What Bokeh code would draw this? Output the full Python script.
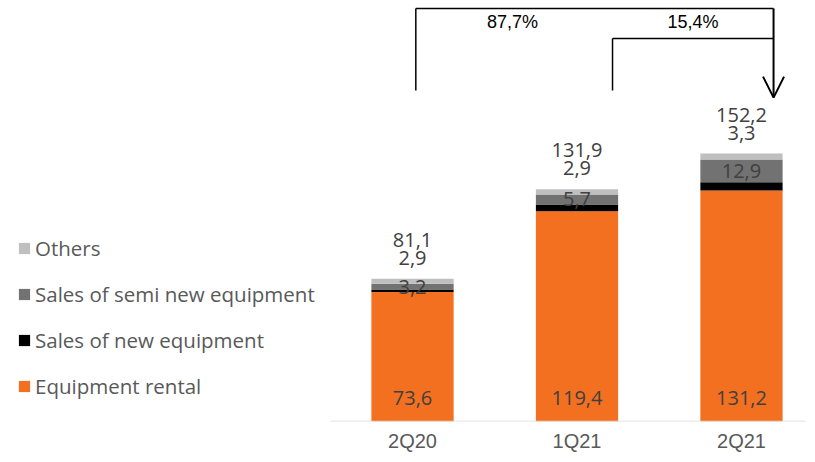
from bokeh.plotting import figure
from bokeh.models import (ColumnDataSource, Range1d, FixedTicker, Legend, LegendItem,
                          Arrow, OpenHead)
from bokeh.core.properties import value
from bokeh.embed import file_html
from bokeh.resources import INLINE

categories = ["2Q20", "1Q21", "2Q21"]
equipment_rental = [73.6, 119.4, 131.2]
sales_new = [1.4, 3.9, 4.8]
sales_semi_new = [3.2, 5.7, 12.9]
others = [2.9, 2.9, 3.3]
totals = [81.1, 131.9, 152.2]
growth_labels = ["87,7%", "15,4%"]

series_names = ["Equipment rental", "Sales of new equipment", "Sales of semi new equipment", "Others"]
colors = ["#F37021", "#000000", "#727272", "#BFBFBF"]

def fmt(v):
    return f"{v:.1f}".replace(".", ",")

xs = list(range(len(categories)))
b1 = equipment_rental
b2 = [a + b for a, b in zip(b1, sales_new)]
b3 = [a + b for a, b in zip(b2, sales_semi_new)]
b4 = [a + b for a, b in zip(b3, others)]

p = figure(width=815, height=462, output_backend="svg", toolbar_location=None,
           x_range=Range1d(-2.505, 2.45), y_range=Range1d(0, 239.2),
           min_border_left=0, min_border_right=0, min_border_top=0, min_border_bottom=41)
p.outline_line_color = None
p.grid.grid_line_color = None
p.yaxis.visible = False
p.xaxis.ticker = FixedTicker(ticks=xs)
p.xaxis.major_label_overrides = {i: c for i, c in enumerate(categories)}
p.xaxis.axis_line_color = None
p.xaxis.major_tick_line_color = None
p.xaxis.minor_tick_line_color = None
p.xaxis.major_tick_out = 0
p.xaxis.major_tick_in = 0
p.xaxis.major_label_text_font = "Liberation Sans"
p.xaxis.major_label_text_font_size = "20px"
p.xaxis.major_label_text_color = "#595959"
p.xaxis.major_label_standoff = 8

src = ColumnDataSource(dict(x=xs, b0=[0] * 3, b1=b1, b2=b2, b3=b3, b4=b4))
bottoms = ["b0", "b1", "b2", "b3"]
tops = ["b1", "b2", "b3", "b4"]
renderers = []
for name, col, bt, tp in zip(series_names, colors, bottoms, tops):
    r = p.vbar(x="x", bottom=bt, top=tp, width=0.5, fill_color=col, line_color=None, source=src)
    renderers.append((name, r))

# baseline
p.segment(x0=[-0.5], y0=[0], x1=[2.39], y1=[0], line_color="#D9D9D9", line_width=1.5)

lab_font = value("Open Sans")
lab_col = "#404040"
fs = "20px"
p.text(x=xs, y=[0] * 3, text=[fmt(v) for v in equipment_rental], text_align="center",
       text_baseline="middle", y_offset=-24, text_font=lab_font, text_font_size=fs, text_color=lab_col)
p.text(x=xs, y=[(a + b) / 2 for a, b in zip(b2, b3)], text=[fmt(v) for v in sales_semi_new],
       text_align="center", text_baseline="middle", text_font=lab_font, text_font_size=fs, text_color=lab_col)
p.text(x=xs, y=b4, text=[fmt(v) for v in others], text_align="center", text_baseline="middle",
       y_offset=-21, text_font=lab_font, text_font_size=fs, text_color=lab_col)
p.text(x=xs, y=b4, text=[fmt(v) for v in totals], text_align="center", text_baseline="middle",
       y_offset=-39, text_font=lab_font, text_font_size=fs, text_color=lab_col)

# growth brackets
y_top1 = 234.7
y_top2 = 217.6
y_low = 188.0
x_a = 0.02
x_b = 1.216
x_c = 2.195
p.segment(x0=[x_a, x_a, x_b, x_b], y0=[y_low, y_top1, y_low, y_top2],
          x1=[x_a, x_c, x_b, x_c], y1=[y_top1, y_top1, y_top2, y_top2],
          line_color="black", line_width=1.5)
p.add_layout(Arrow(end=OpenHead(size=21, line_width=2, line_color="black"),
                   x_start=x_c, y_start=y_top1, x_end=x_c, y_end=184.0,
                   line_color="black", line_width=2))
p.text(x=[(x_a + x_c) / 2 - 0.5, (x_b + x_c) / 2], y=[y_top1, y_top1], text=growth_labels,
       text_align="center", text_baseline="middle", y_offset=14,
       text_font=value("Liberation Sans"), text_font_size="18px", text_color="black")

legend = Legend(items=[LegendItem(label=n, renderers=[r]) for n, r in reversed(renderers)],
                location=(17, 21), orientation="vertical")
legend.glyph_width = 14
legend.glyph_height = 14
legend.label_height = 27
legend.spacing = 18
legend.padding = 0
legend.margin = 0
legend.label_standoff = 4
legend.label_text_font = "Open Sans"
legend.label_text_font_size = "20.5px"
legend.label_text_color = "#595959"
legend.border_line_color = None
legend.background_fill_alpha = 0
p.add_layout(legend, "center")

open("out.html", "w").write(file_html(p, INLINE))
